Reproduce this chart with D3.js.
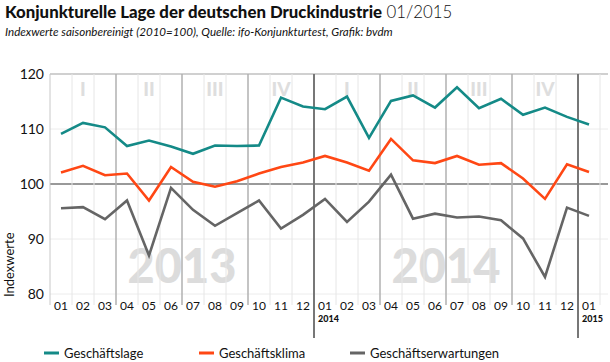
<!DOCTYPE html>
<html>
<head>
<meta charset="utf-8">
<script src="https://cdn.jsdelivr.net/npm/d3@7"></script>
<style>
  body { margin: 0; background: #fff; }
  svg { font-family: Lato, "Noto Sans", sans-serif; }
</style>
</head>
<body>
<div class="chart"></div>
<script>
// months 2013-01 .. 2015-01
var months = ["01","02","03","04","05","06","07","08","09","10","11","12",
  "01","02","03","04","05","06","07","08","09","10","11","12","01"];
var quarterLabels = ["I","II","III","IV","I","II","III","IV"];
var yearLabels = ["2013","2014"];
var yearMarks = ["2014","2015"];
var yTicks = [80, 90, 100, 110, 120];

var lage = [109.1,111.1,110.3,106.9,107.9,106.8,105.5,107.0,106.9,107.0,115.7,114.1,
  113.6,115.9,108.4,115.1,116.1,113.9,117.6,113.8,115.5,112.6,113.9,112.2,110.8];
var klima = [102.1,103.3,101.6,101.9,97.0,103.1,100.4,99.5,100.5,101.9,103.1,103.9,
  105.1,103.9,102.4,108.2,104.3,103.8,105.1,103.5,103.8,101.0,97.3,103.6,102.2];
var erwartungen = [95.6,95.8,93.6,97.0,87.0,99.3,95.3,92.4,94.7,97.0,91.9,94.4,
  97.3,93.1,96.8,101.7,93.7,94.6,93.9,94.1,93.4,90.1,83.1,95.7,94.2];

var series = [
  {name: "Geschäftslage", values: lage, color: "#148a87"},
  {name: "Geschäftsklima", values: klima, color: "#ff4714"},
  {name: "Geschäftserwartungen", values: erwartungen, color: "#656565"}
];

var svgWidth = 610, svgHeight = 362;
var margin = {top: 74, left: 50};
var width = 550, height = 220;

var svg = d3.select(".chart").append("svg")
  .attr("width", svgWidth)
  .attr("height", svgHeight);

// title
var title = svg.append("text").attr("x", 5).attr("y", 18)
  .style("font-size", "16.8px").attr("fill", "#111");
title.append("tspan").style("font-weight", "900").text("Konjunkturelle Lage der deutschen Druckindustrie");
title.append("tspan").style("font-weight", "300").text(" 01/2015");

svg.append("text").attr("x", 5).attr("y", 36)
  .style("font-size", "11.6px").style("font-style", "italic").attr("fill", "#111")
  .text("Indexwerte saisonbereinigt (2010=100), Quelle: ifo-Konjunkturtest, Grafik: bvdm");

var chartGroup = svg.append("g")
  .attr("transform", `translate(${margin.left}, ${margin.top})`);

var x = d3.scaleBand().domain(d3.range(months.length)).range([0, width]);
var y = d3.scaleLinear().domain([80, 120]).range([height, 0]);
var bw = x.bandwidth();

// big year labels
chartGroup.selectAll(".year-bg")
  .data(yearLabels)
  .enter().append("text")
  .attr("x", (d, i) => x(i * 12) + 6 * bw)
  .attr("y", height - 11)
  .attr("text-anchor", "middle")
  .style("font-size", "47px").style("font-weight", "900")
  .attr("fill", "#dcdcdc")
  .text(d => d);

// quarter labels
chartGroup.selectAll(".quarter")
  .data(quarterLabels)
  .enter().append("text")
  .attr("x", (d, i) => x(i * 3) + 1.5 * bw)
  .attr("y", 22)
  .attr("text-anchor", "middle")
  .style("font-size", "19px").style("font-weight", "900")
  .attr("fill", "#dedede")
  .text(d => d);

// horizontal grid
chartGroup.selectAll(".hgrid")
  .data(yTicks)
  .enter().append("line")
  .attr("x1", 0).attr("x2", svgWidth - margin.left - 2)
  .attr("y1", d => y(d)).attr("y2", d => y(d))
  .attr("stroke", d => d === 100 ? "#999" : (d === 120 ? "#d0d0d0" : "#ececec"))
  .attr("stroke-width", d => d === 100 ? 2 : (d === 120 ? 2 : 1));

// vertical grid: month boundaries
var bounds = d3.range(months.length + 1);
chartGroup.selectAll(".vgrid")
  .data(bounds)
  .enter().append("line")
  .attr("x1", d => d * bw).attr("x2", d => d * bw)
  .attr("y1", 0)
  .attr("y2", d => d % 12 === 0 && d > 0 && d < months.length ? height + 44 : height + 11)
  .attr("stroke", d => {
    if (d === 0) return "#c8c8c8";
    if (d % 12 === 0) return "#777";
    if (d % 3 === 0) return "#b0b0b0";
    return "#e6e6e6";
  })
  .attr("stroke-width", d => (d % 12 === 0 && d > 0) ? 2 : (d % 3 === 0 && d > 0 ? 1.5 : 1));

// y axis labels
var yAxis = d3.axisLeft(y).tickValues(yTicks).tickSize(0).tickPadding(6);
chartGroup.append("g").call(yAxis)
  .call(g => g.select(".domain").remove())
  .selectAll("text")
  .style("font-size", "14px").style("font-family", "Lato, sans-serif")
  .attr("fill", "#111");

chartGroup.append("text")
  .attr("transform", "rotate(-90)")
  .attr("x", -height - 3)
  .attr("y", -36)
  .style("font-size", "13px").attr("fill", "#111")
  .text("Indexwerte");

// x axis month labels
var xAxis = d3.axisBottom(x).tickFormat(i => months[i]).tickSize(0).tickPadding(7);
chartGroup.append("g").attr("transform", `translate(0, ${height})`).call(xAxis)
  .call(g => g.select(".domain").remove())
  .selectAll("text")
  .style("font-size", "12px").style("font-family", "Lato, sans-serif")
  .attr("fill", "#111");

// year marks below axis
chartGroup.selectAll(".year-mark")
  .data(yearMarks)
  .enter().append("text")
  .attr("x", (d, i) => x((i + 1) * 12) + 4)
  .attr("y", height + 28)
  .style("font-size", "9px").style("font-weight", "900")
  .attr("fill", "#111")
  .text(d => d);

// lines
var line = d3.line()
  .x((d, i) => x(i) + bw / 2)
  .y(d => y(d));

chartGroup.selectAll(".series")
  .data(series)
  .enter().append("path")
  .attr("d", d => line(d.values))
  .attr("fill", "none")
  .attr("stroke", d => d.color)
  .attr("stroke-width", 2.6)
  .attr("stroke-linejoin", "miter");

// legend
var legendX = [44, 199, 350];
var legend = svg.selectAll(".legend")
  .data(series)
  .enter().append("g")
  .attr("transform", (d, i) => `translate(${legendX[i]}, 353)`);
legend.append("line")
  .attr("x1", 0).attr("x2", 15)
  .attr("stroke", d => d.color).attr("stroke-width", 3);
legend.append("text")
  .attr("x", 20).attr("y", 4.5)
  .style("font-size", "13px").attr("fill", "#111")
  .text(d => d.name);
</script>
</body>
</html>
